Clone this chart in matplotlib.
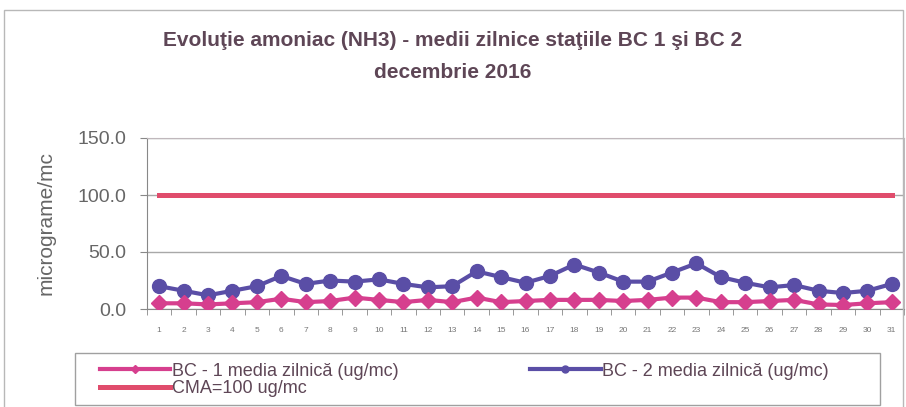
import matplotlib
matplotlib.use("Agg")
import matplotlib.pyplot as plt
from matplotlib.patches import Rectangle

# --- date ---
zile = list(range(1, 32))
bc1 = [5, 5, 4, 5, 6, 9, 6, 7, 10, 8, 6, 8, 6, 10, 6, 7, 8, 8, 8, 7,
       8, 10, 10, 6, 6, 7, 8, 4, 3.5, 5, 6]
bc2 = [20, 16, 12, 16, 20, 29, 22, 25, 24, 26, 22, 19, 20, 33, 28, 23, 29, 39, 32, 24,
       24, 32, 40, 28, 23, 19, 21, 16, 14, 16, 22]
cma = [100] * len(zile)

plt.rcParams['font.family'] = ['Liberation Sans', 'DejaVu Sans']

fig = plt.figure(figsize=(9.06, 4.07), dpi=100)
ax = fig.add_axes([147 / 906, 98 / 407, 757 / 906, 171 / 407])

# chenar exterior
fig.patches.append(Rectangle((4 / 906, -0.02), 899 / 906, 1 - 10 / 407 + 0.02,
                             transform=fig.transFigure, fill=False,
                             edgecolor='#b8b8b8', linewidth=1))
# chenar legenda
fig.patches.append(Rectangle((75 / 906, 2 / 407), 805 / 906, 52 / 407,
                             transform=fig.transFigure, fill=False,
                             edgecolor='#a0a0a0', linewidth=1))

ax.plot(zile, cma, color='#e04c6c', linewidth=3.6, label='CMA=100 ug/mc', zorder=3)
ax.plot(zile, bc2, color='#5a4ea6', linewidth=3, marker='o', markersize=10,
        label='BC - 2 media zilnică (ug/mc)', zorder=4)
ax.plot(zile, bc1, color='#d63f8e', linewidth=3, marker='D', markersize=8,
        label='BC - 1 media zilnică (ug/mc)', zorder=5)

ax.set_xlim(0.5, 31.5)
ax.set_ylim(0, 150)
ax.set_yticks([0, 50, 100, 150])
ax.set_yticklabels([f"{v:.1f}" for v in [0, 50, 100, 150]])
ax.yaxis.grid(True, color='#a8a8a8', linewidth=1)
ax.set_axisbelow(True)

ax.set_xticks(zile)
ax.set_xticklabels([str(z) for z in zile])
ax.set_xticks([z + 0.5 for z in range(0, 32)], minor=True)
ax.tick_params(axis='x', which='major', length=0, labelsize=6, colors='#777777', pad=13)
ax.tick_params(axis='x', which='minor', length=4, color='#888888', direction='out')
ax.tick_params(axis='y', length=5, color='#888888', labelsize=14, labelcolor='#666666', pad=10)

for s in ['top', 'right']:
    ax.spines[s].set_color('#c0b8bc')
ax.spines['left'].set_color('#888888')
ax.spines['bottom'].set_color('#888888')

ax.set_ylabel('micrograme/mc', fontsize=15, color='#666666', labelpad=16)

fig.text(0.5, 1 - 40 / 407, 'Evoluţie amoniac (NH3) - medii zilnice staţiile BC 1 şi BC 2',
         ha='center', va='center', fontsize=15, fontweight='bold', color='#5e4656')
fig.text(0.5, 1 - 72 / 407, 'decembrie 2016',
         ha='center', va='center', fontsize=15, fontweight='bold', color='#5e4656')

h, l = ax.get_legend_handles_labels()
order = [2, 0, 1]
leg = fig.legend([h[i] for i in order], [l[i] for i in order], ncol=2,
                 loc='upper left', bbox_to_anchor=(86 / 906, 1 - 349 / 407),
                 fontsize=13, handlelength=3.9, handletextpad=0.1,
                 columnspacing=7.3, labelspacing=0.05, borderpad=0.25,
                 frameon=False, markerscale=0.5)
for t in leg.get_texts():
    t.set_color('#5e4656')

fig.savefig('out.png', dpi=100)
